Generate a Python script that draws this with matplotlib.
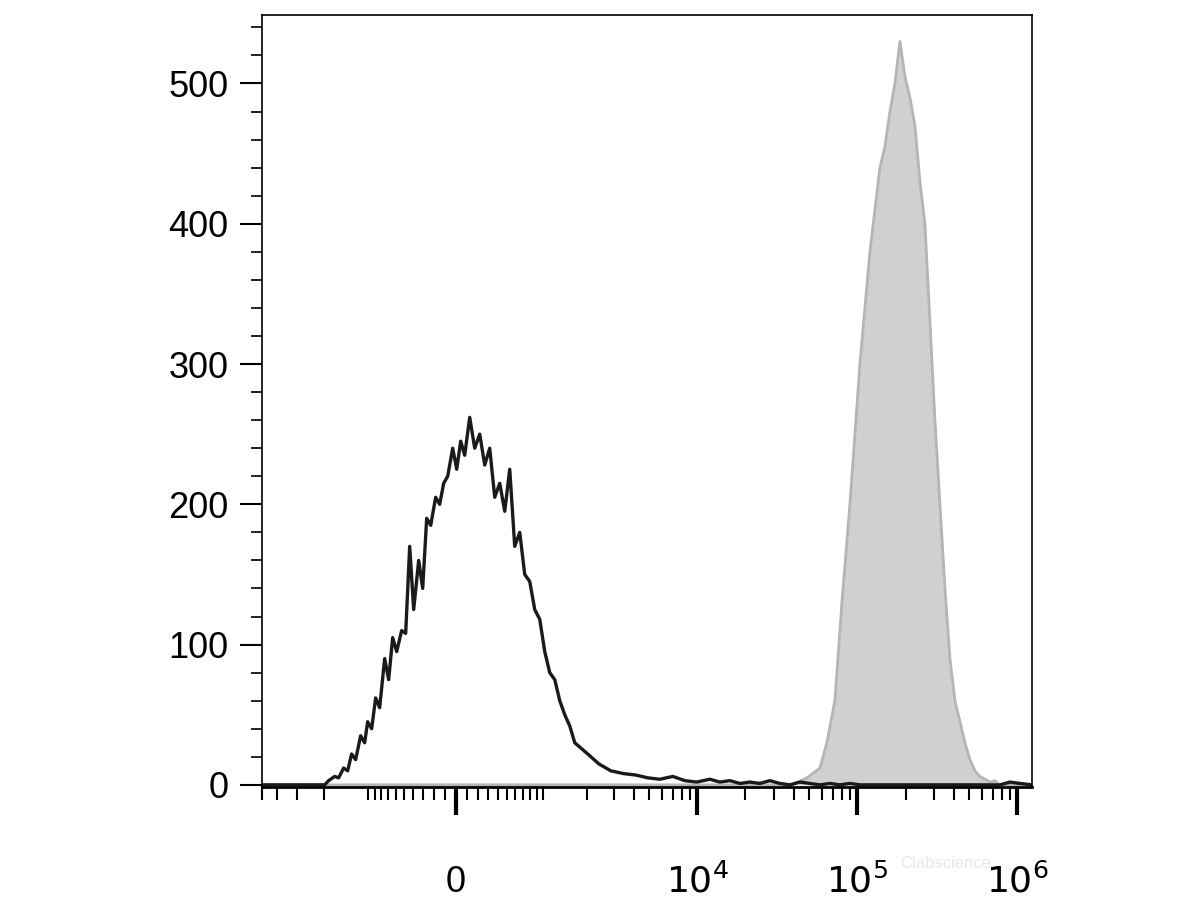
import numpy as np
import matplotlib
matplotlib.use("Agg")
import matplotlib.pyplot as plt
from matplotlib.ticker import FixedLocator, NullFormatter

plt.rcParams['font.family'] = ['Liberation Sans', 'DejaVu Sans']

# x in display channels (biexponential axis, 0..770), y = counts
black_x = [0, 63, 67, 73, 77, 82, 86, 90, 94, 99, 103, 106, 110, 114, 118, 123, 127, 131, 135,
           140, 144, 148, 152, 157, 161, 165, 169, 174, 178, 182, 186, 191, 195, 199, 203, 208,
           213, 218, 223, 228, 233, 238, 243, 248, 253, 258, 263, 268, 273, 278, 283, 288, 293,
           298, 303, 308, 313, 326, 337, 349, 362, 374, 386, 398, 411, 423, 435, 448, 458, 468,
           478, 488, 498, 508, 518, 528, 538, 548, 558, 568, 578, 588, 598, 608, 618, 628, 638,
           648, 658, 668, 678, 688, 698, 708, 718, 728, 738, 748, 758, 770]
black_y = [0, 0, 3, 6, 5, 12, 10, 22, 18, 35, 30, 45, 40, 62, 55, 90, 75, 105, 95, 110,
           108, 170, 125, 160, 140, 190, 185, 205, 200, 215, 220, 240, 225, 245, 235, 262,
           240, 250, 228, 240, 205, 215, 195, 225, 170, 180, 150, 145, 125, 118, 95, 80, 75,
           60, 50, 42, 30, 22, 15, 10, 8, 7, 5, 4, 6, 3, 2, 4, 2, 3, 1, 2, 1, 3, 1, 0, 2, 1,
           0, 1, 0, 1, 0, 0, 0, 0, 0, 0, 0, 0, 0, 0, 0, 0, 0, 0, 0, 2, 1, 0]
gray_x = [0, 530, 545, 558, 565, 573, 580, 588, 593, 598, 603, 608, 613, 618, 623, 628, 633,
          638, 643, 648, 653, 658, 663, 668, 673, 678, 683, 688, 693, 698, 703, 708, 713, 718,
          723, 728, 733, 738, 770]
gray_y = [0, 0, 5, 12, 30, 60, 130, 200, 250, 300, 340, 380, 410, 440, 455, 480, 500, 530,
          505, 490, 470, 430, 400, 330, 260, 200, 140, 90, 60, 45, 30, 18, 10, 6, 4, 2, 3, 0, 0]

# axis transform: channel = 194 + 69.5*asinh(value/620)
def chan(v):
    return 194 + 69.5 * np.arcsinh(np.asarray(v, float) / 620.0)

major_vals = [0, 1e4, 1e5, 1e6]
major_labels = ['0', r'$10^4$', r'$10^5$', r'$10^6$']
minor_vals = []
for k in [2, 3, 4, 5]:
    for m in range(1, 10):
        minor_vals += [m * 10**k, -m * 10**k]
minor_vals = [v for v in minor_vals if 0 <= chan(v) <= 770 and v not in major_vals]

fig = plt.figure(figsize=(12, 9), dpi=100)
ax = fig.add_axes([0.218, 0.1256, 0.642, 0.858])
ax.fill_between(gray_x, gray_y, color='#d0d0d0', lw=0)
ax.plot(gray_x, gray_y, color='#b5b5b5', lw=2)
ax.plot(black_x, black_y, color='#1a1a1a', lw=2.4)
ax.set_xlim(0, 770)
ax.set_ylim(-1.5, 549)

ax.yaxis.set_major_locator(FixedLocator([0, 100, 200, 300, 400, 500]))
ax.yaxis.set_minor_locator(FixedLocator(np.arange(0, 541, 20)))
ax.tick_params(axis='y', which='major', length=16, width=1.5, labelsize=26, pad=8)
ax.tick_params(axis='y', which='minor', length=8, width=1.2)

ax.xaxis.set_major_locator(FixedLocator(chan(major_vals)))
ax.set_xticklabels(major_labels)
ax.xaxis.set_minor_locator(FixedLocator(chan(minor_vals)))
ax.xaxis.set_minor_formatter(NullFormatter())
ax.tick_params(axis='x', which='major', length=20, width=3, labelsize=26, pad=36)
ax.tick_params(axis='x', which='minor', length=9, width=1.5)
for s in ax.spines.values():
    s.set_linewidth(1.2)
ax.spines['bottom'].set_linewidth(2)
fig.text(0.75, 0.035, 'Clabscience', color='#e8e8e8', fontsize=12)
fig.savefig('out.png')
